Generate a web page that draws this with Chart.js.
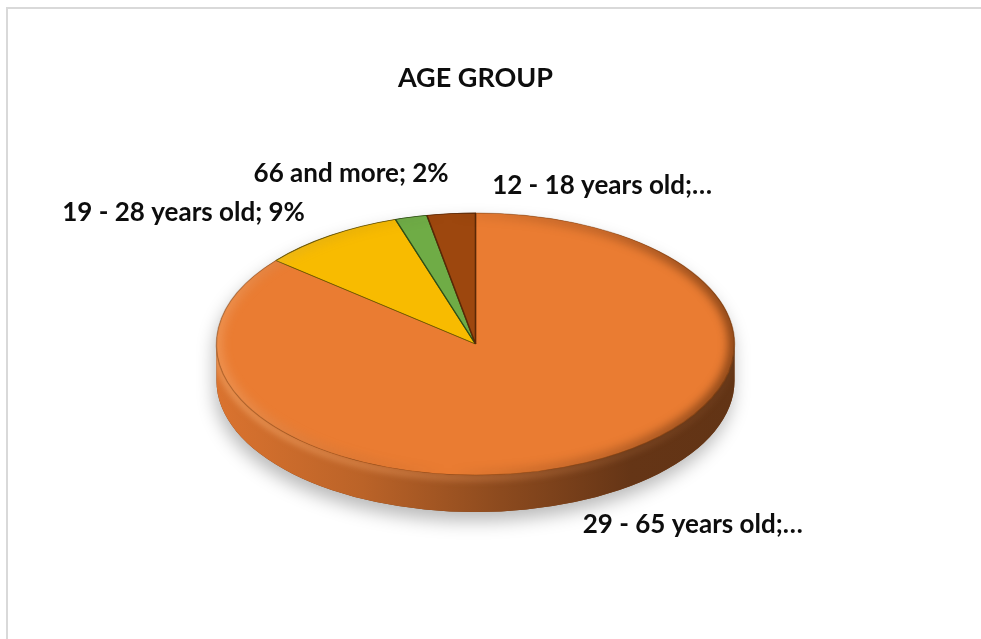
<!DOCTYPE html>
<html>
<head>
<meta charset="utf-8">
<title>AGE GROUP</title>
<script src="https://cdn.jsdelivr.net/npm/chart.js@4.4.1/dist/chart.umd.min.js"></script>
<style>
  html, body { margin: 0; padding: 0; background: #ffffff; }
  #wrap { width: 981px; height: 639px; position: relative; }
  canvas { display: block; }
</style>
</head>
<body>
<div id="wrap"><canvas id="chart" width="981" height="639"></canvas></div>
<script>
// Age groups, in drawing order (clockwise from 12 o'clock)
const categories = ['29 - 65 years old', '19 - 28 years old', '66 and more', '12 - 18 years old'];
// Share of respondents, percent
const shares = [86, 9, 2, 3];
// Labels that are cut short with an ellipsis
const truncated = [true, false, false, true];
const sliceColors = ['#EA7C32', '#F8BB00', '#6FAC46', '#9D470E'];
const sliceEdges = ['rgba(140,70,20,0.45)', '#6B5800', '#2E4F18', '#5A2806'];

const labelTexts = categories.map((c, i) => truncated[i] ? c + ';…' : c + '; ' + shares[i] + '%');

// Tilted-disc projection of the pie
const view = { rx: 259, ry: 131, cy: 344, depth: 37 };
// Where each data label sits relative to its slice's mid-angle on the rim
const labelPlace = [
  { dx: -3, dy: 62, align: 'left' },
  { dx: -25, dy: -23, align: 'right' },
  { dx: -60, dy: -44, align: 'center' },
  { dx: 41, dy: -28, align: 'left' }
];
const LABEL_FONT = 'bold 26px Lato';

function shade(hex, f) {
  const n = parseInt(hex.slice(1), 16);
  const r = Math.round(((n >> 16) & 255) * f);
  const g = Math.round(((n >> 8) & 255) * f);
  const b = Math.round((n & 255) * f);
  return 'rgb(' + r + ',' + g + ',' + b + ')';
}

function normAngle(a) {
  // keep angles in [-PI/2, 3PI/2)
  while (a < -Math.PI / 2) a += Math.PI * 2;
  while (a >= Math.PI * 1.5) a -= Math.PI * 2;
  return a;
}

const tiltedPie = {
  id: 'tiltedPie',
  beforeDraw(chart) {
    const ctx = chart.ctx;
    ctx.save();
    ctx.fillStyle = '#ffffff';
    ctx.fillRect(0, 0, chart.width, chart.height);
    ctx.strokeStyle = '#D9D9D9';
    ctx.lineWidth = 2;
    ctx.strokeRect(7, 8, chart.width + 20, chart.height + 20);
    ctx.restore();
  },
  beforeDatasetsDraw(chart) {
    const ctx = chart.ctx;
    const meta = chart.getDatasetMeta(0);
    const a0 = meta.data[0];
    const cx = a0.x, cy = view.cy, rx = view.rx, ry = view.ry, d = view.depth;

    // drop shadow under the disc
    ctx.save();
    ctx.shadowColor = 'rgba(0,0,0,0.28)';
    ctx.shadowBlur = 18;
    ctx.shadowOffsetX = -2;
    ctx.shadowOffsetY = 9;
    ctx.fillStyle = '#7a3c12';
    ctx.beginPath();
    ctx.ellipse(cx, cy, rx, ry, 0, Math.PI, 0, false);
    ctx.ellipse(cx, cy + d, rx, ry, 0, 0, Math.PI, false);
    ctx.closePath();
    ctx.fill();
    ctx.restore();

    // visible front wall of each slice
    meta.data.forEach((arc, i) => {
      const s = normAngle(arc.startAngle);
      const e = s + (arc.endAngle - arc.startAngle);
      const from = Math.max(s, 0), to = Math.min(e, Math.PI);
      if (to <= from) return;
      const base = sliceColors[i];
      const g = ctx.createLinearGradient(cx - rx, 0, cx + rx, 0);
      g.addColorStop(0, shade(base, 0.93));
      g.addColorStop(0.28, shade(base, 0.8));
      g.addColorStop(0.55, shade(base, 0.6));
      g.addColorStop(0.8, shade(base, 0.43));
      g.addColorStop(1, shade(base, 0.42));
      ctx.save();
      ctx.fillStyle = g;
      ctx.beginPath();
      ctx.ellipse(cx, cy, rx, ry, 0, from, to, false);
      ctx.ellipse(cx, cy + d, rx, ry, 0, to, from, true);
      ctx.closePath();
      ctx.fill();
      ctx.restore();
    });

    // lip highlight where wall meets the top
    ctx.save();
    ctx.beginPath();
    ctx.ellipse(cx, cy, rx, ry, 0, 0, Math.PI, false);
    ctx.ellipse(cx, cy + d, rx, ry, 0, Math.PI, 0, true);
    ctx.closePath();
    ctx.clip();
    ctx.filter = 'blur(3px)';
    const hl = ctx.createLinearGradient(cx - rx, 0, cx + rx, 0);
    hl.addColorStop(0, 'rgba(255,190,130,0.5)');
    hl.addColorStop(0.5, 'rgba(255,170,110,0.3)');
    hl.addColorStop(1, 'rgba(255,170,110,0.05)');
    ctx.strokeStyle = hl;
    ctx.lineWidth = 6;
    ctx.beginPath();
    ctx.ellipse(cx, cy + 3, rx, ry, 0, 0, Math.PI, false);
    ctx.stroke();
    ctx.restore();

    // squash the library's circular pie into the tilted top face
    ctx.save();
    ctx.translate(cx, cy);
    ctx.scale(rx / a0.outerRadius, ry / a0.outerRadius);
    ctx.translate(-a0.x, -a0.y);
  },
  afterDatasetsDraw(chart) {
    const ctx = chart.ctx;
    ctx.restore();
    const meta = chart.getDatasetMeta(0);
    const cx = meta.data[0].x, cy = view.cy, rx = view.rx, ry = view.ry;

    // bevel shading around the top face
    ctx.save();
    ctx.beginPath();
    ctx.ellipse(cx, cy, rx, ry, 0, 0, Math.PI * 2);
    ctx.clip();
    ctx.filter = 'blur(5px)';
    const bv = ctx.createLinearGradient(cx - rx, 0, cx + rx, 0);
    bv.addColorStop(0, 'rgba(255,225,190,0.22)');
    bv.addColorStop(0.45, 'rgba(0,0,0,0)');
    bv.addColorStop(0.75, 'rgba(60,25,5,0.25)');
    bv.addColorStop(1, 'rgba(50,20,0,0.55)');
    ctx.strokeStyle = bv;
    ctx.lineWidth = 12;
    ctx.beginPath();
    ctx.ellipse(cx, cy, rx, ry, 0, 0, Math.PI * 2);
    ctx.stroke();
    ctx.restore();

    // data labels
    ctx.save();
    ctx.font = LABEL_FONT;
    ctx.fillStyle = '#0D0D0D';
    ctx.textBaseline = 'middle';
    meta.data.forEach((arc, i) => {
      const mid = (arc.startAngle + arc.endAngle) / 2;
      const px = cx + rx * Math.cos(mid);
      const py = cy + ry * Math.sin(mid);
      const p = labelPlace[i];
      ctx.textAlign = p.align;
      ctx.fillText(labelTexts[i], px + p.dx, py + p.dy);
    });
    ctx.restore();
  }
};

new Chart(document.getElementById('chart'), {
  type: 'pie',
  data: {
    labels: categories,
    datasets: [{
      data: shares,
      backgroundColor: sliceColors,
      borderColor: sliceEdges,
      borderWidth: 1.5,
      clip: false
    }]
  },
  options: {
    responsive: false,
    animation: false,
    devicePixelRatio: 1,
    layout: { padding: { left: 0, right: 30, top: 0, bottom: 20 } },
    events: [],
    plugins: {
      legend: { display: false },
      tooltip: { enabled: false },
      title: {
        display: true,
        text: 'AGE GROUP',
        color: '#0D0D0D',
        font: { family: 'Lato', size: 27, weight: 'bold' },
        padding: { top: 62, bottom: 12 }
      }
    }
  },
  plugins: [tiltedPie]
});
</script>
</body>
</html>
